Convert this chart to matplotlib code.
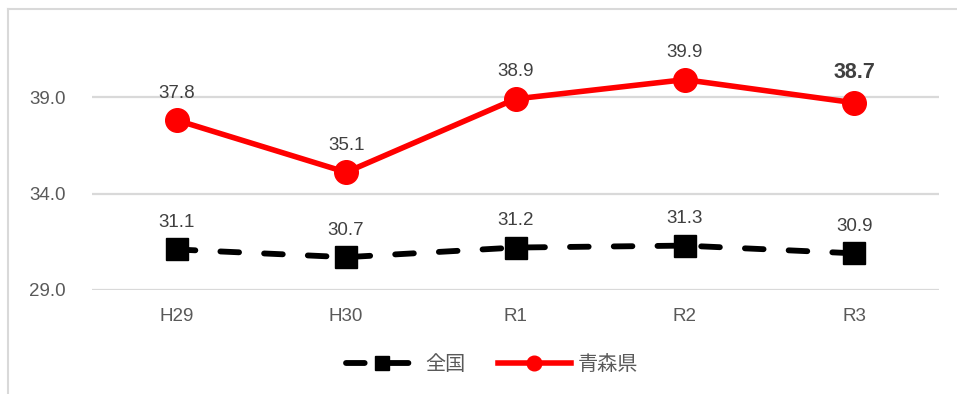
import matplotlib
matplotlib.use("Agg")
import matplotlib.pyplot as plt
from matplotlib.lines import Line2D

categories = ["H29", "H30", "R1", "R2", "R3"]
national = [31.1, 30.7, 31.2, 31.3, 30.9]
aomori = [37.8, 35.1, 38.9, 39.9, 38.7]
series_names = ["全国", "青森県"]
yticks = [29.0, 34.0, 39.0]

plt.rcParams['font.family'] = ['Liberation Sans', 'Noto Sans CJK JP']

W, H = 957, 394
fig = plt.figure(figsize=(W / 100, H / 100), dpi=100)
ax = fig.add_axes([92 / W, 1 - 290 / H, (939 - 92) / W, (290 - 19.8) / H])

x = list(range(len(categories)))
ax.plot(x, national, color="black", lw=4.2, marker="s", markersize=15.5,
        dashes=(3.2, 4.3), dash_capstyle="round", label=series_names[0], zorder=3)
ax.plot(x, aomori, color="#ff0000", lw=4.0, marker="o", markersize=17,
        label=series_names[1], zorder=4)

txt = "#404040"
for i, v in enumerate(national):
    ax.annotate(f"{v:.1f}", (i, v), xytext=(0, 19.5), textcoords="offset points",
                ha="center", va="center", fontsize=13.5, color=txt)
for i, v in enumerate(aomori):
    last = i == len(aomori) - 1
    ax.annotate(f"{v:.1f}", (i, v), xytext=(0, 21.5 if last else 19.5), textcoords="offset points",
                ha="center", va="center", fontsize=15.5 if last else 13.5,
                fontweight="bold" if last else "normal", color=txt)

ax.set_xlim(-0.5, len(categories) - 0.5)
ax.set_ylim(29, 43)
ax.set_yticks(yticks)
ax.set_yticklabels([f"{t:.1f}" for t in yticks])
ax.set_xticks(x)
ax.set_xticklabels(categories)
ax.tick_params(axis="both", length=0, labelsize=13.5, colors="#595959")
ax.tick_params(axis="y", pad=19)
ax.tick_params(axis="x", pad=13)
ax.grid(axis="y", color="#d9d9d9", lw=1.6)
ax.set_axisbelow(True)
for s in ax.spines.values():
    s.set_visible(False)

leg = fig.legend(loc="center", bbox_to_anchor=(492 / W, 1 - 365 / H), ncol=2,
                 frameon=False, fontsize=14.5, handlelength=3.6, columnspacing=1.6,
                 handletextpad=0.35, labelcolor="#595959", markerscale=0.62)

fig.add_artist(Line2D([8 / W, 8 / W], [0, 1 - 9 / H], color="#d9d9d9", lw=1.5, transform=fig.transFigure))
fig.add_artist(Line2D([8 / W, 1], [1 - 9 / H, 1 - 9 / H], color="#d9d9d9", lw=1.5, transform=fig.transFigure))

fig.savefig("out.png", dpi=100)
